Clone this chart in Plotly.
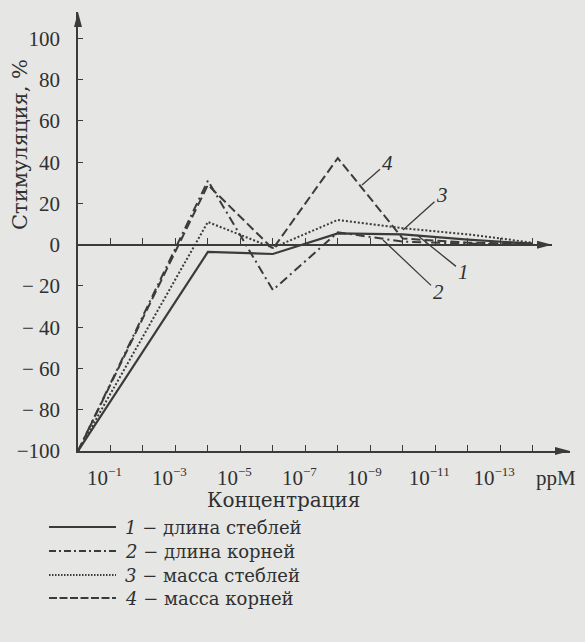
import plotly.graph_objects as go

# ---- data ----
concentration = [1, 1e-4, 1e-6, 1e-8, 1e-10, 1e-12, 1e-14]   # ppM
stem_length = [-100, -3.5, -4.5, 5.5, 5, 2.5, 0.5]            # 1
root_length = [-100, 31, -22, 6, 1.5, 0.5, 0]                 # 2
stem_mass = [-100, 11, -1.5, 12, 8, 5, 1]                     # 3
root_mass = [-100, 29, -2, 42, 3, 1, 0.5]                     # 4

series_names = ["длина стеблей", "длина корней", "масса стеблей", "масса корней"]
series_nums = ["1", "2", "3", "4"]

y_ticks = [-100, -80, -60, -40, -20, 0, 20, 40, 60, 80, 100]
y_ticktext = ["−100", "− 80", "− 60", "− 40", "− 20", "0", "20", "40", "60", "80", "100"]
x_tickvals = [10.0 ** (-k) for k in range(1, 15)]
x_ticktext = [("10<sup><span style='font-size:13px'>−%d</span></sup>" % k) if k % 2 == 1 else ""
              for k in range(1, 15)]

# ---- style ----
INK = "#3b3b3b"
TXT = "#303030"
BG = "#e6e6e4"
SERIF = "Liberation Serif"
CYR = "DejaVu Serif"
dashes = ["solid", "9px,4px,2px,4px", "2px,2px", "9px,4px"]
leg_dashes = ["solid", "7px,3px,2px,3px", "1.5px,1.5px", "8px,2.5px"]
widths = [2.2, 2, 2, 2]

# plot-area geometry (pixels)
L, R, T, B = 78, 15, 12, 191
W = 585 - L - R
H = 642 - T - B
def px(xp):
    return (xp - L) / W
def py(yp):
    return (642 - B - yp) / H

fig = go.Figure()
# invisible trace so the zero-line axis is drawn
fig.add_trace(go.Scatter(x=[1], y=[0], xaxis="x2", yaxis="y", mode="markers",
                         marker=dict(opacity=0), showlegend=False, hoverinfo="skip"))
for vals, name, dash, w in zip([stem_length, root_length, stem_mass, root_mass],
                              series_names, dashes, widths):
    fig.add_trace(go.Scatter(x=concentration, y=vals, mode="lines", name=name,
                             line=dict(color=INK, width=w, dash=dash),
                             showlegend=False, hoverinfo="skip"))

ZERO_P = 100 / 212.8
X2_END = (552 - L) / W

fig.update_layout(
    width=585, height=642,
    margin=dict(l=L, r=R, t=T, b=B),
    paper_bgcolor=BG, plot_bgcolor="rgba(0,0,0,0)",
    xaxis=dict(type="log", range=[0, -15.15], showgrid=False, zeroline=False,
               showline=True, linecolor=INK, linewidth=1.5,
               ticks="inside", ticklen=6, tickwidth=1.3, tickcolor=INK,
               tickvals=x_tickvals, ticktext=x_ticktext,
               tickfont=dict(family=SERIF, size=21, color=TXT),
               ticklabelstandoff=7, ticklabelshift=6),
    xaxis2=dict(type="log", range=[0, -14.59], domain=[0, X2_END],
                anchor="free", position=ZERO_P, showgrid=False, zeroline=False,
                showline=True, linecolor=INK, linewidth=1.5,
                ticks="inside", ticklen=6, tickwidth=1.3, tickcolor=INK,
                tickvals=x_tickvals, showticklabels=False),
    yaxis=dict(range=[-100, 112.8], showgrid=False, zeroline=False,
               showline=True, linecolor=INK, linewidth=1.5,
               ticks="inside", ticklen=5, tickwidth=1.3, tickcolor=INK,
               tickvals=y_ticks, ticktext=y_ticktext,
               tickfont=dict(family=SERIF, size=21, color=TXT),
               ticklabelstandoff=12),
)

# arrowheads
def tri(tip, base_a, base_b):
    return "M %f,%f L %f,%f L %f,%f Z" % (base_a[0], base_a[1], tip[0], tip[1], base_b[0], base_b[1])
ah, al = 4.0, 15.0
shapes = [
    dict(type="path", xref="paper", yref="paper",
         path=tri((0, 1), (-ah / W, 1 - al / H), (ah / W, 1 - al / H)),
         fillcolor=INK, line=dict(width=0)),
    dict(type="path", xref="paper", yref="paper",
         path=tri((1, 0), (1 - al / W, ah / H), (1 - al / W, -ah / H)),
         fillcolor=INK, line=dict(width=0)),
    dict(type="path", xref="paper", yref="paper",
         path=tri((X2_END, ZERO_P), (X2_END - al / W, ZERO_P + ah / H), (X2_END - al / W, ZERO_P - ah / H)),
         fillcolor=INK, line=dict(width=0)),
]

# legend (manual)
leg_rows = [527, 551, 575, 598]
for yp, dash, w in zip(leg_rows, leg_dashes, widths):
    shapes.append(dict(type="line", xref="paper", yref="paper",
                       x0=px(49), x1=px(116), y0=py(yp), y1=py(yp),
                       line=dict(color=INK, width=w, dash=dash)))
fig.update_layout(shapes=shapes)

ann = []
for yp, num, name in zip(leg_rows, series_nums, series_names):
    ann.append(dict(xref="paper", yref="paper", x=px(123), y=py(yp),
                    xanchor="left", yanchor="middle", showarrow=False,
                    text="<i>%s</i> − %s" % (num, name),
                    font=dict(family=CYR, size=18, color=TXT)))
# axis titles
ann.append(dict(xref="paper", yref="paper", x=px(20), y=py(145), textangle=-90,
                xanchor="center", yanchor="middle", showarrow=False,
                text="Стимуляция, %", font=dict(family=CYR, size=21, color=TXT)))
ann.append(dict(xref="paper", yref="paper", x=px(283), y=py(500),
                xanchor="center", yanchor="middle", showarrow=False,
                text="Концентрация", font=dict(family=CYR, size=20, color=TXT)))
ann.append(dict(xref="paper", yref="paper", x=px(534), y=py(478),
                xanchor="left", yanchor="middle", showarrow=False,
                text="ppM", font=dict(family=SERIF, size=21, color=TXT)))
# curve labels with leader lines: (text x, text y, tip x, tip y) in pixels
labels = [("4", 387, 163, 362, 185), ("3", 442, 195, 403, 230),
          ("1", 463, 272, 417, 235), ("2", 438, 292, 383, 240)]
for num, tx, ty, ax_, ay_ in labels:
    ann.append(dict(xref="paper", yref="paper", x=px(ax_), y=py(ay_),
                    ax=tx - ax_, ay=ty - ay_, showarrow=True, arrowhead=0,
                    arrowwidth=1.3, arrowcolor=INK, standoff=0,
                    text="<i>%s</i>" % num,
                    font=dict(family=SERIF, size=21, color=TXT)))
fig.update_layout(annotations=ann)

fig.write_html("out.html")
